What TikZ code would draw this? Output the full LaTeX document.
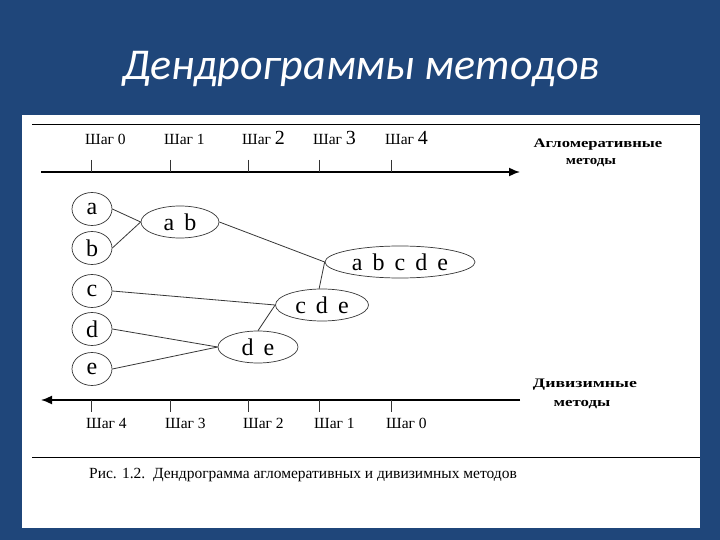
\documentclass[tikz,border=0pt]{standalone}
\usepackage{fontspec}
\setmainfont{Liberation Serif}
\newfontfamily\titlefont{Carlito}
\usetikzlibrary{shapes.geometric,arrows.meta}
\definecolor{bgblue}{RGB}{31,70,122}
\definecolor{edgegray}{RGB}{55,55,55}
\newcommand{\gp}{\hspace{0.42em}}
\begin{document}
\begin{tikzpicture}[x=1pt,y=-1pt,
  leaf/.style={ellipse,draw=edgegray,line width=0.7pt,minimum width=40pt,minimum height=33pt,inner sep=0pt,font=\fontsize{24}{24}\selectfont},
  cluster/.style={ellipse,draw=edgegray,line width=0.7pt,minimum height=32pt,inner sep=0pt,font=\fontsize{24}{24}\selectfont},
  link/.style={draw=edgegray,line width=0.8pt},
  axis/.style={line width=1.6pt,-{Latex[length=11pt,width=9pt]}},
  tick/.style={line width=0.9pt,draw=black!80},
  steplabel/.style={inner sep=0pt,font=\fontsize{15.5}{15.5}\selectfont},
  sidelabel/.style={inner sep=0pt,font=\bfseries\fontsize{13}{13}\selectfont},
  rule/.style={line width=0.9pt}
]
\fill[bgblue] (0,0) rectangle (720,540);
\fill[white] (22,115) rectangle (700,528);
\node[font=\titlefont\itshape\fontsize{44}{44}\selectfont,text=white] (title) at (361,69) {Дендрограммы методов};

% top rule and caption rule
\coordinate (r1a) at (32,124); \coordinate (r1b) at (700,124);
\draw[rule] (r1a) -- (r1b);
\coordinate (r2a) at (32,457); \coordinate (r2b) at (700,457);
\draw[rule] (r2a) -- (r2b);

% agglomerative axis
\coordinate (ta) at (41,172); \coordinate (tb) at (520,172);
\draw[axis] (ta) -- (tb);
\foreach \x/\n/\s [count=\i] in {91/0/15.5,170/1/15.5,248/2/20,319/3/20,391/4/20}{
  \coordinate (tt\i) at (\x,160); \coordinate (tu\i) at (\x,172);
  \draw[tick] (tt\i) -- (tu\i);
  \node[steplabel,anchor=base west] (tl\i) at (\x-6,145) {Шаг {\fontsize{\s}{\s}\selectfont\n}};
}
\node[sidelabel] (agg1) at (598,145) {\scalebox{1.28}[1]{Агломеративные}};
\node[sidelabel] (agg2) at (591,163) {\scalebox{1.15}[1]{методы}};

% divisive axis
\coordinate (ba) at (41,400); \coordinate (bb) at (520,400);
\draw[axis] (bb) -- (ba);
\foreach \x/\n [count=\i] in {91/4,170/3,248/2,319/1,391/0}{
  \coordinate (bt\i) at (\x,400); \coordinate (bu\i) at (\x,412);
  \draw[tick] (bt\i) -- (bu\i);
  \node[steplabel,anchor=base west] (bl\i) at (\x-5,428) {Шаг \n};
}
\node[sidelabel] (div1) at (585,385) {\scalebox{1.37}[1]{Дивизимные}};
\node[sidelabel] (div2) at (582,405) {\scalebox{1.3}[1]{методы}};

% nodes
\node[leaf] (a) at (92,209) {a};
\node[leaf] (b) at (92,248) {b};
\node[leaf] (c) at (92,291) {c};
\node[leaf] (d) at (92,329) {d};
\node[leaf] (e) at (92,369) {e};
\node[cluster,minimum width=78pt] (ab) at (180,222) {a\gp b};
\node[cluster,minimum width=150pt] (abcde) at (400,262) {a\gp b\gp c\gp d\gp e};
\node[cluster,minimum width=93pt] (cde) at (322,305) {c\gp d\gp e};
\node[cluster,minimum width=80pt] (de) at (258,347) {d\gp e};

% links
\draw[link] (a.east) -- (ab.west);
\draw[link] (b.east) -- (ab.west);
\draw[link] (ab.east) -- (abcde.west);
\draw[link] (cde.100) -- (abcde.west);
\draw[link] (c.east) -- (cde.west);
\draw[link] (de.north) -- (cde.west);
\draw[link] (d.east) -- (de.west);
\draw[link] (e.east) -- (de.west);

% caption
\node[anchor=base west,inner sep=0pt,font=\fontsize{15.5}{15.5}\selectfont] (cap) at (89,478) {Рис. 1.2.\ \ Дендрограмма агломеративных и дивизимных методов};
\end{tikzpicture}
\end{document}
